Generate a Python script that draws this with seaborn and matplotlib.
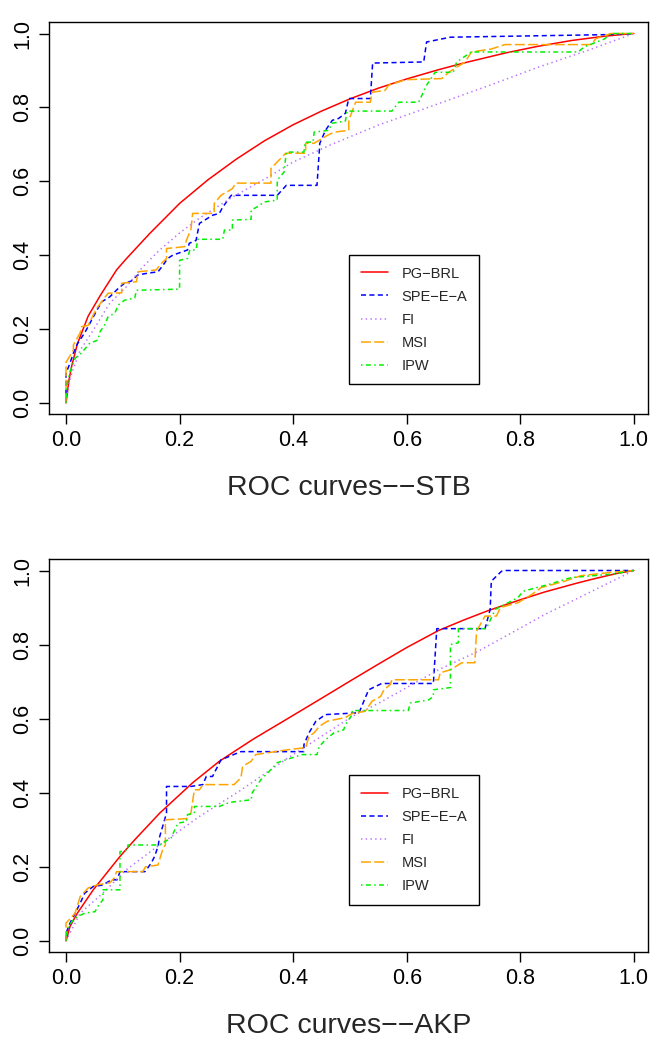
import numpy as np
import pandas as pd
import matplotlib
matplotlib.use("Agg")
import matplotlib.pyplot as plt
import seaborn as sns

methods = ["PG−BRL", "SPE−E−A", "FI", "MSI", "IPW"]

# ---- STB panel ----
stb_pg_x = [0, 0.005, 0.01, 0.02, 0.039, 0.06, 0.089, 0.106, 0.147, 0.2, 0.25, 0.3, 0.35, 0.4, 0.45, 0.5, 0.55, 0.6, 0.656, 0.7, 0.773, 0.83, 0.89, 0.95, 1.0]
stb_pg_y = [0, 0.06, 0.10, 0.16, 0.235, 0.29, 0.36, 0.39, 0.458, 0.54, 0.604, 0.66, 0.71, 0.753, 0.79, 0.823, 0.852, 0.877, 0.902, 0.92, 0.947, 0.965, 0.981, 0.993, 1.0]

stb_spe_x = [0, 0, 0.007, 0.013, 0.02, 0.033, 0.045, 0.054, 0.063, 0.077, 0.092, 0.103, 0.115, 0.126, 0.139, 0.162, 0.171, 0.179, 0.188, 0.214, 0.217, 0.229, 0.235, 0.258, 0.27, 0.276, 0.291, 0.372, 0.388, 0.442, 0.447, 0.457, 0.469, 0.48, 0.492, 0.498, 0.536, 0.540, 0.63, 0.635, 0.677, 0.954, 1.0]
stb_spe_y = [0, 0.08, 0.108, 0.135, 0.16, 0.19, 0.224, 0.25, 0.274, 0.287, 0.31, 0.324, 0.33, 0.346, 0.35, 0.355, 0.373, 0.391, 0.40, 0.414, 0.432, 0.44, 0.486, 0.508, 0.513, 0.53, 0.562, 0.562, 0.589, 0.589, 0.703, 0.738, 0.765, 0.77, 0.784, 0.824, 0.824, 0.92, 0.923, 0.977, 0.99, 0.997, 1.0]

stb_fi_x = [0, 0.005, 0.01, 0.025, 0.048, 0.077, 0.106, 0.135, 0.165, 0.2, 0.235, 0.293, 0.352, 0.4, 0.468, 0.55, 0.656, 0.75, 0.832, 0.92, 1.0]
stb_fi_y = [0, 0.05, 0.08, 0.143, 0.197, 0.27, 0.314, 0.368, 0.414, 0.46, 0.50, 0.557, 0.608, 0.652, 0.70, 0.752, 0.81, 0.862, 0.909, 0.955, 1.0]

stb_msi_x = [0, 0, 0.013, 0.013, 0.025, 0.027, 0.039, 0.048, 0.054, 0.074, 0.098, 0.098, 0.124, 0.127, 0.159, 0.165, 0.177, 0.177, 0.209, 0.212, 0.22, 0.223, 0.261, 0.261, 0.273, 0.293, 0.299, 0.361, 0.361, 0.375, 0.387, 0.422, 0.422, 0.437, 0.46, 0.472, 0.498, 0.498, 0.51, 0.536, 0.539, 0.562, 0.568, 0.598, 0.662, 0.674, 0.703, 0.714, 0.749, 0.773, 0.925, 0.933, 0.96, 1.0]
stb_msi_y = [0, 0.11, 0.143, 0.157, 0.19, 0.206, 0.21, 0.238, 0.256, 0.297, 0.298, 0.324, 0.328, 0.355, 0.36, 0.373, 0.391, 0.418, 0.423, 0.44, 0.47, 0.513, 0.513, 0.54, 0.562, 0.58, 0.595, 0.595, 0.635, 0.657, 0.676, 0.676, 0.703, 0.703, 0.724, 0.733, 0.738, 0.765, 0.814, 0.814, 0.841, 0.846, 0.86, 0.875, 0.878, 0.895, 0.923, 0.95, 0.958, 0.97, 0.97, 0.986, 1.0, 1.0]

stb_ipw_x = [0, 0, 0.001, 0.007, 0.016, 0.027, 0.042, 0.056, 0.06, 0.068, 0.074, 0.086, 0.092, 0.103, 0.121, 0.124, 0.2, 0.2, 0.214, 0.218, 0.229, 0.232, 0.276, 0.279, 0.293, 0.293, 0.326, 0.326, 0.337, 0.349, 0.372, 0.372, 0.384, 0.388, 0.419, 0.421, 0.435, 0.437, 0.463, 0.468, 0.492, 0.495, 0.574, 0.586, 0.621, 0.635, 0.65, 0.682, 0.688, 0.714, 0.902, 0.913, 0.948, 0.96, 1.0]
stb_ipw_y = [0, 0.008, 0.044, 0.085, 0.121, 0.135, 0.162, 0.17, 0.193, 0.211, 0.233, 0.243, 0.265, 0.278, 0.284, 0.305, 0.308, 0.386, 0.391, 0.414, 0.414, 0.443, 0.443, 0.468, 0.468, 0.495, 0.497, 0.522, 0.531, 0.544, 0.549, 0.603, 0.625, 0.679, 0.679, 0.706, 0.706, 0.733, 0.738, 0.757, 0.763, 0.79, 0.79, 0.814, 0.814, 0.86, 0.895, 0.895, 0.923, 0.95, 0.95, 0.964, 0.985, 1.0, 1.0]

# ---- AKP panel ----
akp_pg_x = [0, 0.007, 0.02, 0.048, 0.095, 0.121, 0.165, 0.223, 0.27, 0.33, 0.387, 0.45, 0.504, 0.551, 0.6, 0.656, 0.7, 0.744, 0.8, 0.843, 0.9, 0.931, 0.97, 1.0]
akp_pg_y = [0, 0.039, 0.075, 0.138, 0.228, 0.273, 0.345, 0.427, 0.485, 0.545, 0.597, 0.655, 0.705, 0.748, 0.792, 0.838, 0.866, 0.892, 0.921, 0.942, 0.966, 0.978, 0.992, 1.0]

akp_spe_x = [0, 0, 0.007, 0.016, 0.025, 0.033, 0.048, 0.065, 0.08, 0.09, 0.095, 0.139, 0.15, 0.156, 0.162, 0.165, 0.177, 0.177, 0.22, 0.241, 0.247, 0.258, 0.273, 0.308, 0.419, 0.419, 0.428, 0.44, 0.457, 0.516, 0.533, 0.556, 0.647, 0.653, 0.738, 0.747, 0.749, 0.767, 0.775, 1.0]
akp_spe_y = [0, 0.021, 0.048, 0.075, 0.102, 0.129, 0.147, 0.151, 0.165, 0.165, 0.187, 0.187, 0.21, 0.228, 0.255, 0.282, 0.345, 0.417, 0.417, 0.422, 0.444, 0.444, 0.489, 0.511, 0.511, 0.53, 0.562, 0.593, 0.611, 0.616, 0.678, 0.695, 0.695, 0.843, 0.843, 0.895, 0.971, 0.998, 1.0, 1.0]

akp_fi_x = [0, 0.025, 0.065, 0.106, 0.153, 0.194, 0.235, 0.305, 0.387, 0.504, 0.551, 0.656, 0.726, 0.843, 1.0]
akp_fi_y = [0, 0.075, 0.129, 0.192, 0.246, 0.291, 0.336, 0.404, 0.49, 0.606, 0.642, 0.732, 0.782, 0.881, 1.0]

akp_msi_x = [0, 0, 0.016, 0.025, 0.039, 0.054, 0.077, 0.085, 0.089, 0.135, 0.14, 0.162, 0.171, 0.175, 0.175, 0.212, 0.22, 0.226, 0.235, 0.241, 0.296, 0.308, 0.311, 0.326, 0.334, 0.39, 0.422, 0.428, 0.437, 0.446, 0.46, 0.492, 0.504, 0.527, 0.539, 0.554, 0.56, 0.571, 0.574, 0.656, 0.659, 0.677, 0.697, 0.72, 0.723, 0.738, 0.758, 0.765, 0.796, 0.82, 0.837, 0.878, 0.907, 0.96, 1.0]
akp_msi_y = [0, 0.048, 0.075, 0.12, 0.143, 0.151, 0.157, 0.17, 0.187, 0.187, 0.2, 0.205, 0.251, 0.259, 0.327, 0.33, 0.345, 0.408, 0.408, 0.422, 0.422, 0.44, 0.471, 0.485, 0.503, 0.516, 0.522, 0.552, 0.562, 0.579, 0.593, 0.603, 0.614, 0.62, 0.647, 0.66, 0.678, 0.692, 0.705, 0.705, 0.724, 0.732, 0.751, 0.751, 0.836, 0.877, 0.877, 0.9, 0.913, 0.935, 0.954, 0.971, 0.986, 0.995, 1.0]

akp_ipw_x = [0, 0, 0.004, 0.013, 0.021, 0.033, 0.051, 0.056, 0.065, 0.065, 0.095, 0.095, 0.109, 0.109, 0.165, 0.174, 0.185, 0.197, 0.212, 0.214, 0.226, 0.226, 0.27, 0.288, 0.326, 0.328, 0.343, 0.358, 0.372, 0.387, 0.416, 0.442, 0.446, 0.457, 0.472, 0.489, 0.492, 0.504, 0.504, 0.603, 0.606, 0.639, 0.647, 0.647, 0.677, 0.677, 0.691, 0.691, 0.74, 0.756, 0.796, 0.805, 0.849, 0.89, 0.96, 1.0]
akp_ipw_y = [0, 0.012, 0.039, 0.057, 0.066, 0.075, 0.079, 0.093, 0.111, 0.138, 0.138, 0.241, 0.246, 0.259, 0.259, 0.268, 0.278, 0.318, 0.322, 0.341, 0.345, 0.363, 0.363, 0.374, 0.381, 0.40, 0.435, 0.458, 0.481, 0.489, 0.503, 0.503, 0.525, 0.543, 0.562, 0.57, 0.584, 0.611, 0.622, 0.622, 0.642, 0.651, 0.66, 0.678, 0.684, 0.80, 0.805, 0.843, 0.843, 0.895, 0.927, 0.944, 0.962, 0.981, 0.99, 1.0]

colors = {"PG−BRL": "#ff0000", "SPE−E−A": "#0000ff", "FI": "#b870ff", "MSI": "#ffa500", "IPW": "#00f000"}
dashes = {"PG−BRL": "", "SPE−E−A": (3.3, 2.2), "FI": (0.9, 2.2), "MSI": (6.5, 2.2), "IPW": (1.0, 2.2, 3.2, 2.2)}


def long_df(curves):
    rows = []
    for name, (xs, ys) in zip(methods, curves):
        rows.append(pd.DataFrame({"fpr": xs, "tpr": ys, "method": name}))
    return pd.concat(rows, ignore_index=True)


stb = long_df([(stb_pg_x, stb_pg_y), (stb_spe_x, stb_spe_y), (stb_fi_x, stb_fi_y),
               (stb_msi_x, stb_msi_y), (stb_ipw_x, stb_ipw_y)])
akp = long_df([(akp_pg_x, akp_pg_y), (akp_spe_x, akp_spe_y), (akp_fi_x, akp_fi_y),
               (akp_msi_x, akp_msi_y), (akp_ipw_x, akp_ipw_y)])

sns.set_style("white")
plt.rcParams["font.family"] = ["Liberation Sans", "DejaVu Sans"]

fig = plt.figure(figsize=(6.72, 10.5), dpi=100)
ax1 = fig.add_axes([0.0729, 0.6057, 0.8914, 0.3733])
ax2 = fig.add_axes([0.0729, 0.0933, 0.8914, 0.3743])

panels = [(ax1, stb, "ROC curves−−STB", 0.406), (ax2, akp, "ROC curves−−AKP", 0.45)]
for ax, df, title, leg_y in panels:
    sns.lineplot(data=df, x="fpr", y="tpr", hue="method", style="method",
                 palette=colors, dashes=dashes, estimator=None, sort=False,
                 linewidth=1.1, ax=ax)
    ax.set_xlim(-0.030, 1.025)
    ax.set_ylim(-0.030, 1.031)
    ticks = [0.0, 0.2, 0.4, 0.6, 0.8, 1.0]
    ax.set_xticks(ticks)
    ax.set_yticks(ticks)
    ax.set_xticklabels([f"{t:.1f}" for t in ticks])
    ax.set_yticklabels([f"{t:.1f}" for t in ticks], rotation=90, va="center")
    ax.tick_params(direction="out", length=7.5, width=1.0, labelsize=15.5, pad=4,
                   bottom=True, left=True, colors="black")
    for s in ax.spines.values():
        s.set_visible(True)
        s.set_color("black")
        s.set_linewidth(1.0)
    ax.set_ylabel("")
    ax.set_xlabel(title, fontsize=20.5, va="top")
    ax.xaxis.set_label_coords(0.5, -0.155)

    # rebuild the legend with an R-like square frame
    leg = ax.get_legend()
    handles = leg.legend_handles
    labels = [t.get_text() for t in leg.get_texts()]
    leg.remove()
    ax.legend(handles, labels, loc="upper left", bbox_to_anchor=(0.501, leg_y),
              frameon=True, fancybox=False, edgecolor="black", framealpha=1,
              fontsize=10.5, handlelength=1.9, handletextpad=0.9,
              labelspacing=0.62, borderpad=0.8, borderaxespad=0)
    ax.get_legend().get_frame().set_linewidth(1.0)

fig.savefig("out.png", dpi=100)
